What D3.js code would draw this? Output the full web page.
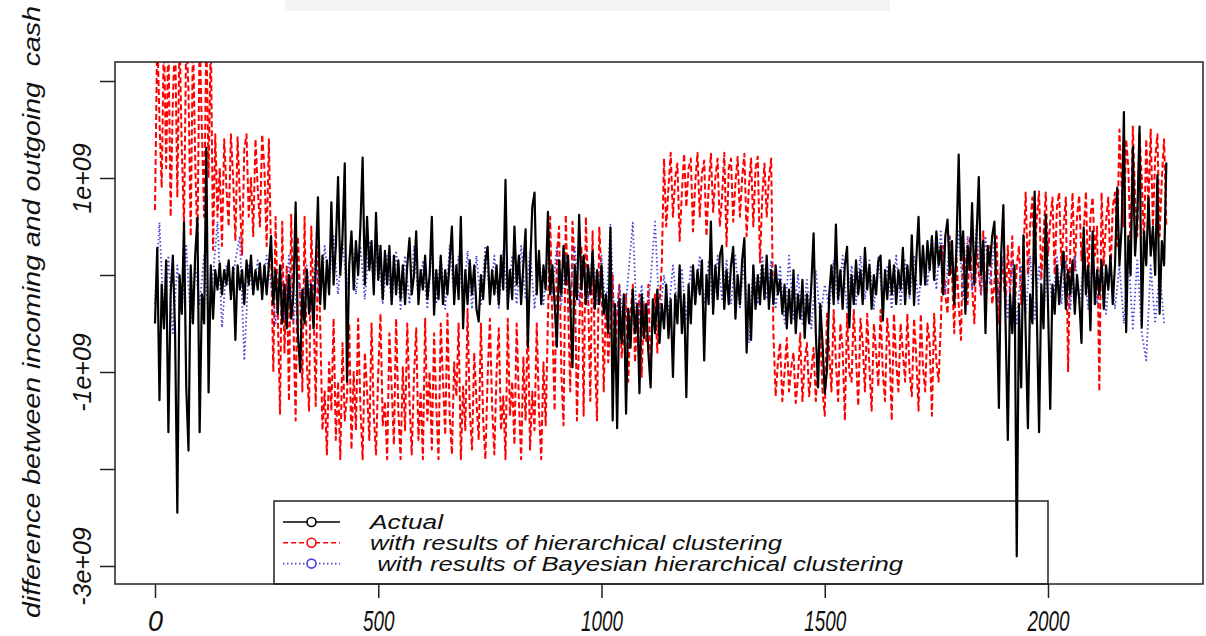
<!DOCTYPE html>
<html>
<head>
<meta charset="utf-8">
<script src="https://cdn.jsdelivr.net/npm/d3@7"></script>
<style>
  body { margin: 0; background: #fff; }
  svg { display: block; font-family: "Liberation Sans", Arial, sans-serif; font-style: italic; }
</style>
</head>
<body>
<svg class="js-render-chart" width="1206" height="636"></svg>
<script>
"use strict";

//data (values in units of 1e+09, one value every `step` time points)

const actualStep = 5;
const hierarchicalStep = 5;
const bayesianStep = 10;

const actual = [
  -0.5, 0.28, -1.29, -0.1, -0.55, 0.15, -1.62, -0.2, 0.2, -0.6,
  -2.45, 0.0, -0.4, 0.54, -1.16, -1.81, 0.1, -0.5, 0.2, 0.59,
  -1.62, -0.2, -0.5, 1.31, -1.21, 0.1, -0.45, 0.05, -0.15, 0.12,
  -0.2, 0.05, -0.1, 0.15, -0.25, 0.08, -0.67, 0.1, -0.15, 0.05,
  -0.3, 0.15, -0.1, 0.2, -0.2, 0.05, -0.15, 0.12, -0.25, 0.1,
  -0.2, 0.1, 0.4, -0.3, 0.05, -0.4, 0.1, -0.5, -0.1, -0.55,
  0.0, -0.45, -0.2, 0.75, -0.6, -1.0, -0.15, -0.5, 0.05, -0.4,
  -0.1, -0.55, 0.1, 0.8, -0.3, 0.2, -0.35, 0.15, -0.2, 0.75,
  -0.1, 0.3, 1.01, 0.0, 0.4, 1.15, -1.1, 0.1, 0.45, -0.15,
  0.35, 0.0, 0.5, 1.21, -0.1, 0.6, 0.05, 0.35, -0.2, 0.64,
  -0.05, 0.3, -0.25, 0.25, -0.1, 0.3, -0.3, 0.2, -0.2, 0.15,
  -0.25, 0.1, -0.3, 0.1, 0.38, -0.2, 0.0, 0.45, -0.3, 0.05,
  -0.15, 0.2, -0.25, 0.0, 0.6, -0.41, 0.05, -0.25, 0.2, -0.3,
  0.05, -0.2, 0.15, 0.5, -0.3, 0.1, -0.25, 0.6, -0.55, 0.05,
  -0.3, 0.15, -0.2, 0.1, -0.35, -0.48, 0.0, -0.25, 0.15, 0.29,
  -0.3, 0.05, -0.2, 0.1, -0.3, 0.2, -0.15, 0.98, -0.35, 0.05,
  -0.25, 0.5, -0.1, 0.2, -0.3, 0.1, 0.47, -0.74, 0.05, 0.7,
  0.85, -0.2, 0.25, -0.3, 0.1, -0.15, 0.65, -0.2, 0.1, -0.3,
  -0.74, 0.15, -0.2, 0.3, -0.1, 0.2, -0.3, -0.95, 0.1, -0.25,
  0.62, -0.15, 0.2, -0.3, 0.1, -0.2, 0.25, -0.35, 0.05, -0.3,
  0.1, -0.4, -0.2, -0.6, 0.49, -1.5, -0.3, -1.58, -0.25, -0.7,
  -0.2, -1.43, -0.35, -0.75, -0.15, -0.6, -0.3, -1.22, -0.2, -0.65,
  -0.3, -0.8, -1.16, -0.25, -0.6, -0.15, -0.7, -0.3, -0.55, -0.1,
  -0.65, -0.25, -1.05, -0.2, -0.5, 0.1, -0.6, -0.2, -1.26, -0.1,
  -0.5, 0.1, -0.3, 0.05, -0.2, 0.15, -0.88, 0.0, -0.3, 0.55,
  -0.4, 0.1, -0.25, 0.2, 0.3, -0.35, 0.05, -0.3, 0.1, 0.29,
  -0.45, 0.0, -0.3, 0.15, 0.38, -0.8, -0.1, -0.67, 0.1, -0.35,
  0.0, -0.3, 0.1, -0.25, 0.2, -0.35, 0.05, -0.3, 0.1, -0.2,
  -0.05, -0.4, -0.1, -0.55, -0.15, -0.5, 0.05, -0.6, -0.2, -0.45,
  -0.05, -0.65, -0.2, -0.5, -0.1, 0.43, -0.6, -1.16, -0.3, -0.7,
  -1.22, -0.98, -0.2, 0.1, -0.3, 0.52, -0.25, 0.05, -0.35, 0.1,
  0.29, -0.54, 0.0, -0.3, 0.15, -0.2, 0.05, -0.3, 0.28, -0.15,
  0.1, -0.35, 0.0, -0.2, 0.15, 0.2, -0.47, 0.05, -0.25, 0.15,
  -0.2, 0.1, -0.3, 0.05, -0.15, 0.28, -0.3, 0.1, -0.2, 0.41,
  -0.31, 0.15, 0.6, -0.1, 0.3, -0.1, 0.35, 0.05, 0.4, -0.05,
  0.45, 0.1, 0.3, -0.2, 0.4, 0.57, 0.0, 0.35, -0.3, 0.3,
  1.24, 0.15, 0.45, -0.4, 0.3, 0.05, 0.74, -0.1, 0.4, 1.01,
  0.0, 0.35, -0.6, 0.3, 0.1, 0.4, 0.55, -0.3, -1.37, 0.2,
  0.72, -0.5, -1.7, -0.2, -0.6, 0.1, -2.9, -0.3, -1.16, 0.41,
  -0.6, -1.58, -0.2, -0.5, 0.86, -0.4, -1.62, -0.1, -0.55, 0.62,
  -0.3, -1.38, -0.1, -0.4, 0.1, -0.3, 0.0, 0.24, -0.35, 0.05,
  -0.2, 0.15, -0.4, 0.0, -0.25, -0.7, 0.49, -0.2, 0.1, -0.57,
  0.45, -0.3, 0.05, -0.2, 0.15, -0.35, 0.1, -0.15, 0.2, -0.3,
  0.1, 0.9, 0.1, 0.5, 1.68, -0.59, 0.4, 0.0, 1.32, 0.2,
  0.6, 1.53, -0.54, 0.45, 0.1, 0.8, 0.2, 0.5, 0.0, 1.03,
  -0.4, 0.35, 0.1, 1.16
];

const hierarchical = [
  0.67, 2.5, 1.6, 0.9, 2.5, 1.1, 2.5, 0.6, 1.8, 2.5,
  0.8, 2.5, 1.3, 0.5, 2.5, 1.9, 0.4, 2.5, 1.2, 0.3,
  2.5, 1.5, 0.6, 2.5, 1.0, 2.5, 0.26,
  1.45, 0.6, 1.1, 0.3, 1.4, 0.9, 0.5, 1.45, 1.0, 0.35,
  1.42, 0.8, 0.2, 1.3, 1.45, 0.6, 1.0, 0.4, 1.4, 0.9,
  0.5, 1.45, 1.1, 0.3, 1.4,
  0.2, -1.0, 0.6, -0.4, -1.43, 0.55, -0.8, 0.1, -1.3, 0.62,
  -0.5, -1.5, 0.4, -0.2, -1.2, 0.6, -0.9, -1.4, 0.5, -0.3,
  -1.35, 0.3,
  -0.5, -1.6, -1.2, -1.85, -0.9, -1.4, -0.45, -1.7, -1.1, -1.9,
  -0.7, -1.5, -1.25, -0.5, -1.8, -1.0, -1.6, -0.45, -1.35, -1.9,
  -0.8, -1.2, -1.7, -0.5, -1.45, -1.85, -1.0, -0.4, -1.55, -1.3,
  -1.9, -0.6, -1.15, -1.75, -0.45, -1.4, -1.9, -0.95, -1.6, -0.5,
  -1.3, -1.85, -1.05, -0.55, -1.7, -1.2, -1.9, -0.45, -1.5, -1.0,
  -1.8, -0.6, -1.35, -1.9, -0.5, -1.1, -1.65, -0.4, -1.45, -1.85,
  -0.9, -1.25, -0.5, -1.9, -1.15, -1.6, -0.35, -1.4, -1.8, -0.8,
  -1.3, -1.7, -0.5, -1.5, -1.9, -1.05, -0.45, -1.35, -1.85, -1.0,
  -0.55, -1.6, -1.25, -1.9, -0.45, -1.45, -1.1, -1.75, -0.5, -1.3,
  -1.9, -0.85, -1.5, -0.45, -1.8, -1.2, -1.6, -0.5, -1.4, -1.9,
  -0.9, -1.55, -0.45,
  0.6, -0.5, -1.4, 0.2, 0.5, -1.0, -1.55, 0.62, -0.3, -1.2,
  0.55, 0.1, -1.5, -0.6, 0.3, -1.45, 0.6, -0.2, -1.3, 0.45,
  -0.8, -1.5, 0.5, 0.0, -1.2,
  -0.2, -0.9, -0.5, 0.0, -1.0, -0.4, -0.1, -0.85, -0.6, -0.2,
  -1.1, -0.4, -0.1, -0.9, -0.5, -0.2, -1.05, -0.3, -0.7, -0.1,
  -0.95, -0.4, -0.2, -0.8, -0.3, 0.1,
  1.2, 0.5, 0.9, 1.26, 0.6, 1.0, 1.15, 0.35, 0.85, 1.25,
  0.7, 1.1, 1.2, 0.45, 0.95, 1.26, 0.6, 1.05, 1.18, 0.4,
  0.9, 1.25, 0.65, 1.0, 1.2, 0.5, 0.8, 1.26, 0.3, 1.1,
  1.2, 0.55, 0.95, 1.22, 0.6, 1.0, 1.25, 0.4, 0.9, 1.2,
  0.5, 1.1, 1.22, 0.13, 0.8, 1.15, 0.6, 1.0, 1.2,
  -0.6, -1.25, -0.9, -0.7, -1.3, -1.0, -0.65, -1.2, -0.95, -0.8,
  -1.32, -1.05, -0.6, -1.3, -0.9, -0.7, -1.25, -1.0, -0.75, -1.3,
  -0.85, -0.6, -1.2,
  -1.45, -0.4, -0.8, -1.2, -0.36, -0.9, -1.3, -0.5, -0.75, -1.5,
  -0.4, -1.0, -1.1, -0.36, -0.85, -1.35, -0.45, -0.7, -1.2, -0.4,
  -0.95, -1.4, -0.5, -0.8, -1.15, -0.36, -1.0, -1.3, -0.45, -0.75,
  -1.5, -0.4, -0.9, -1.2, -0.5, -0.8, -1.1, -0.4, -1.0, -1.25,
  -0.45, -0.85, -1.4, -0.4, -0.95, -1.2, -0.5, -0.7, -1.45, -0.4,
  -0.9, -1.1, -0.5,
  0.3, -0.2, -0.4, 0.4, 0.0, -0.6, 0.2, -0.3, -0.67, 0.35,
  0.1, -0.3, 0.4, -0.1, -0.5, 0.3, 0.0, -0.2, 0.45, -0.4,
  0.1, 0.3, -0.3, -0.1, 0.4, -0.5, 0.2, 0.0, -0.35, 0.3,
  -0.2, 0.4, -0.45, 0.1, 0.3, -0.3, 0.2,
  0.85, 0.0, 0.5, 0.8, 0.1, 0.6, 0.86, -0.05, 0.4, 0.85,
  0.2, 0.55, 0.8, 0.0, 0.7, 0.85, 0.1, 0.5, 0.8, -1.0,
  0.3, 0.85, 0.05, 0.6, 0.82, 0.15, 0.45, 0.86, -0.1, 0.6,
  0.8, 0.2, 0.5, -1.2, 0.85, 0.1, 0.55, 0.8, 0.0, 0.7,
  0.85,
  0.3, 1.5, 0.9, 0.5, 1.4, 1.1, 0.2, 1.53, 0.8, 0.4,
  1.45, 1.0, 0.3, 1.4, 0.7, 1.5, 0.5, 1.2, 1.45, 0.4,
  1.0, 1.4, 0.5
];

const bayesian = [
  -0.3, 0.54, -0.5, 0.2, -0.6, 0.1, -0.4, 0.3, -0.5, 0.1,
  -0.3, 0.2, -0.45, 0.0, 0.55, -0.54, 0.1, -0.2, 0.15, 0.4,
  -0.88, 0.1, -0.2, 0.15, -0.15, 0.2, -0.1, -0.5, 0.1, -0.45,
  0.2, -0.5, 0.0, -0.4, 0.1, -0.35, 0.2, -0.3, 0.3, -0.1,
  0.4, -0.2, 0.35, -0.15, 0.4, -0.2, 0.3, -0.25, 0.35, -0.1,
  0.3, -0.3, 0.2, -0.3, 0.25, -0.35, 0.2, -0.3, 0.3, -0.25,
  0.15, -0.35, 0.25, -0.3, 0.2, -0.35, 0.3, -0.25, 0.2, -0.3,
  0.25, -0.35, 0.2, -0.3, 0.3, -0.25, 0.2, -0.35, 0.25, -0.3,
  0.2, -0.3, 0.3, -0.25, 0.25, -0.35, 0.2, -0.3, 0.25, -0.2,
  0.3, -0.3, 0.2, -0.25, 0.3, -0.3, 0.2, -0.25, 0.25, -0.3,
  0.2, -0.4, 0.52, -0.6, -0.1, -0.55, 0.0, 0.54, -0.6, -0.1,
  -0.5, -0.05, 0.55, -0.45, 0.0, -0.4, 0.1, -0.35, 0.05, -0.45,
  0.1, -0.3, 0.2, -0.3, 0.15, -0.35, 0.2, -0.25, 0.15, -0.3,
  0.2, -0.35, 0.15, -0.7, 0.1, -0.3, 0.2, -0.25, 0.15, -0.35,
  0.1, -0.5, 0.2, -0.45, 0.0, -0.5, -0.05, -0.55, 0.05, -0.45,
  -0.1, -0.35, 0.15, -0.3, 0.2, -0.35, 0.1, -0.3, 0.2, -0.25,
  0.15, -0.35, 0.2, -0.3, 0.1, -0.35, 0.2, -0.3, 0.15, -0.25,
  0.2, -0.3, 0.25, -0.1, 0.4, -0.15, 0.45, -0.2, 0.4, -0.1,
  0.45, -0.25, 0.4, -0.15, 0.5, -0.2, 0.4, -0.1, 0.35, -0.3,
  0.2, -0.45, 0.15, -0.5, 0.1, -0.4, 0.2, -0.45, 0.1, -0.4,
  0.15, -0.35, 0.2, -0.3, 0.15, -0.35, 0.2, -0.3, 0.1, -0.35,
  0.2, -0.3, 0.15, -0.4, 0.1, -0.35, 0.1, -0.5, 0.2, -0.55,
  0.15, -0.6, -0.88, 0.1, -0.5, 0.05, -0.5
];

//axes and legend text

const xTicks = [0, 500, 1000, 1500, 2000];
const yTicks = [2, 1, 0, -1, -2, -3];
const yLabelled = [1, -1, -3];

const yTitle = "difference between incoming and outgoing  cash";

const legendItems = [
  { label: "Actual", color: "#000", dash: null, width: 73 },
  { label: "with results of hierarchical clustering", color: "#f00", dash: "5,3", width: 412 },
  { label: " with results of Bayesian hierarchical clustering", color: "#4646d8", dash: "1.5,2.5", width: 533 }
];

//layout

const box = { left: 115, top: 62, right: 1203, bottom: 584 };

const svg = d3.select(".js-render-chart");

//scan artefact strip at the top

svg.append("rect")
  .attr("x", 285)
  .attr("y", 0)
  .attr("width", 605)
  .attr("height", 11)
  .attr("fill", "#f3f3f3");

//scales

const x = d3.scaleLinear().domain([0, 2000]).range([155, 1048]);
const y = d3.scaleLinear().domain([-3, 2]).range([566, 81]);

//series

svg.append("clipPath")
  .attr("id", "plot-clip")
  .append("rect")
  .attr("x", box.left)
  .attr("y", box.top)
  .attr("width", box.right - box.left)
  .attr("height", box.bottom - box.top);

const plot = svg.append("g").attr("clip-path", "url(#plot-clip)");

const lineFn = (step) => d3.line()
  .x((d, i) => x(i * step))
  .y((d) => y(d));

const series = [
  { values: hierarchical, step: hierarchicalStep, item: legendItems[1], width: 2, dash: "6,3" },
  { values: bayesian, step: bayesianStep, item: legendItems[2], width: 1.8, dash: "1.5,2.5" },
  { values: actual, step: actualStep, item: legendItems[0], width: 2.2, dash: null }
];

series.forEach((s) => {
  plot.append("path")
    .attr("d", lineFn(s.step)(s.values))
    .attr("fill", "none")
    .attr("stroke", s.item.color)
    .attr("stroke-width", s.width)
    .attr("stroke-linejoin", "round")
    .attr("stroke-dasharray", s.dash);
});

//box

svg.append("rect")
  .attr("x", box.left)
  .attr("y", box.top)
  .attr("width", box.right - box.left)
  .attr("height", box.bottom - box.top)
  .attr("fill", "none")
  .attr("stroke", "#222")
  .attr("stroke-width", 1.5);

//x axis

svg.append("g")
  .attr("transform", `translate(0, ${box.bottom})`)
  .call(d3.axisBottom(x)
    .tickValues(xTicks)
    .tickSize(14)
    .tickPadding(12)
    .tickFormat(d3.format("d")))
  .call((g) => g.select(".domain").remove())
  .call((g) => g.selectAll("line").attr("stroke", "#222").attr("stroke-width", 1.5))
  .call((g) => g.selectAll("text")
    .attr("font-size", 30)
    .attr("fill", "#111")
    .attr("textLength", (d) => String(d).length === 1 ? 15 : String(d).length * 10.5)
    .attr("lengthAdjust", "spacingAndGlyphs"));

//y axis

svg.append("g")
  .attr("transform", `translate(${box.left}, 0)`)
  .call(d3.axisLeft(y)
    .tickValues(yTicks)
    .tickSize(15)
    .tickFormat((d) => yLabelled.includes(d) ? `${d}e+09` : ""))
  .call((g) => g.select(".domain").remove())
  .call((g) => g.selectAll("line").attr("stroke", "#222").attr("stroke-width", 1.5))
  .call((g) => g.selectAll("text")
    .attr("transform", "rotate(-90)")
    .attr("x", 0)
    .attr("y", -24)
    .attr("dy", 0)
    .attr("text-anchor", "middle")
    .attr("font-size", 25)
    .attr("fill", "#111"));

//y title

svg.append("text")
  .attr("transform", "translate(40, 312) rotate(-90)")
  .attr("text-anchor", "middle")
  .attr("font-size", 23)
  .attr("fill", "#111")
  .attr("textLength", 612)
  .attr("lengthAdjust", "spacingAndGlyphs")
  .style("white-space", "pre")
  .text(yTitle);

//legend

const legend = svg.append("g");

legend.append("rect")
  .attr("x", 274)
  .attr("y", 501)
  .attr("width", 1048 - 274)
  .attr("height", box.bottom - 501)
  .attr("fill", "none")
  .attr("stroke", "#222")
  .attr("stroke-width", 1.5);

legendItems.forEach((item, i) => {

  const cy = 522 + i * 20.8;

  legend.append("line")
    .attr("x1", 283)
    .attr("x2", 340)
    .attr("y1", cy)
    .attr("y2", cy)
    .attr("stroke", item.color)
    .attr("stroke-width", 1.6)
    .attr("stroke-dasharray", item.dash);

  legend.append("circle")
    .attr("cx", 311.5)
    .attr("cy", cy)
    .attr("r", 4.5)
    .attr("fill", "#fff")
    .attr("stroke", item.color)
    .attr("stroke-width", 1.6);

  legend.append("text")
    .attr("x", 370)
    .attr("y", cy + 7)
    .attr("font-size", 20)
    .attr("fill", "#111")
    .attr("textLength", item.width)
    .attr("lengthAdjust", "spacingAndGlyphs")
    .style("white-space", "pre")
    .text(item.label);

});
</script>
</body>
</html>
